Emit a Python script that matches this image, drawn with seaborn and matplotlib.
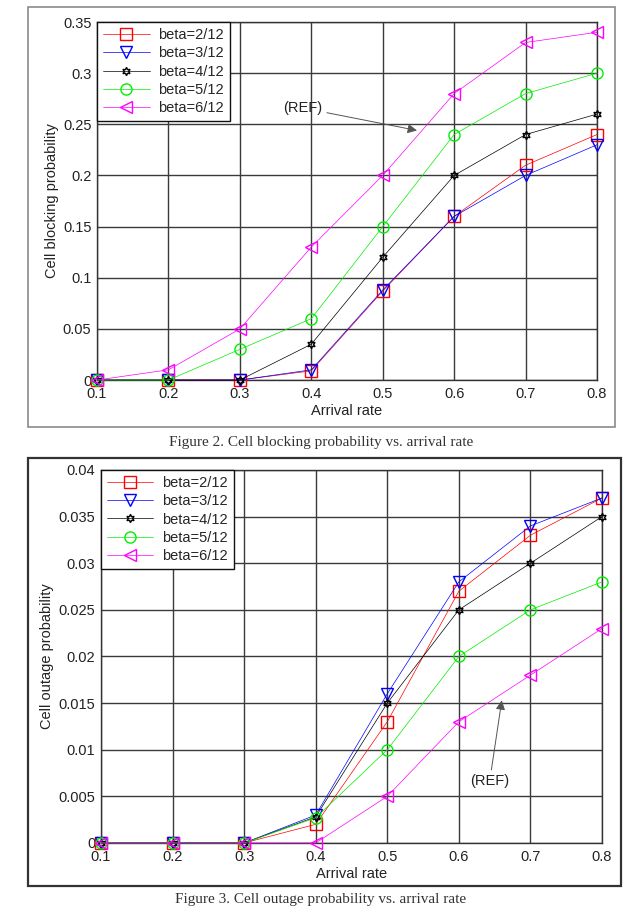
import numpy as np
import pandas as pd
import seaborn as sns
import matplotlib
matplotlib.use("Agg")
import matplotlib.pyplot as plt
from matplotlib.patches import Rectangle

# arrival rate on the x axis
arrival = [0.1, 0.2, 0.3, 0.4, 0.5, 0.6, 0.7, 0.8]
betas = ["beta=2/12", "beta=3/12", "beta=4/12", "beta=5/12", "beta=6/12"]

# Figure 2: cell blocking probability
block_2 = [0, 0, 0, 0.009, 0.087, 0.16, 0.21, 0.24]
block_3 = [0, 0, 0, 0.010, 0.088, 0.16, 0.20, 0.23]
block_4 = [0, 0, 0, 0.035, 0.12, 0.20, 0.24, 0.26]
block_5 = [0, 0, 0.03, 0.06, 0.15, 0.24, 0.28, 0.30]
block_6 = [0, 0.01, 0.05, 0.13, 0.20, 0.28, 0.33, 0.34]

# Figure 3: cell outage probability
outage_2 = [0, 0, 0, 0.002, 0.013, 0.027, 0.033, 0.037]
outage_3 = [0, 0, 0, 0.003, 0.016, 0.028, 0.034, 0.037]
outage_4 = [0, 0, 0, 0.0028, 0.015, 0.025, 0.030, 0.035]
outage_5 = [0, 0, 0, 0.0027, 0.010, 0.020, 0.025, 0.028]
outage_6 = [0, 0, 0, 0, 0.005, 0.013, 0.018, 0.023]

x_ticks = [0.1, 0.2, 0.3, 0.4, 0.5, 0.6, 0.7, 0.8]
x_ticklabels = ["0.1", "0.2", "0.3", "0.4", "0.5", "0.6", "0.7", "0.8"]
block_ticks = [0, 0.05, 0.1, 0.15, 0.2, 0.25, 0.3, 0.35]
block_ticklabels = ["0", "0.05", "0.1", "0.15", "0.2", "0.25", "0.3", "0.35"]
outage_ticks = [0, 0.005, 0.01, 0.015, 0.02, 0.025, 0.03, 0.035, 0.04]
outage_ticklabels = ["0", "0.005", "0.01", "0.015", "0.02", "0.025", "0.03", "0.035", "0.04"]

colors = ["#ff0000", "#0000ff", "#000000", "#00ee00", "#ff00ff"]
markers = ["s", "v", (6, 1, 0), "o", "<"]
msizes = [8, 8, 6, 8, 8]

sns.set_theme(style="white")
plt.rcParams["font.family"] = ["Liberation Sans", "DejaVu Sans"]
plt.rcParams["xtick.direction"] = "in"
plt.rcParams["ytick.direction"] = "in"

fig = plt.figure(figsize=(6.42, 9.14), dpi=100)

# outer frames around each figure
fig.patches.append(Rectangle((0.0436, 0.5328), 0.914, 0.4595, transform=fig.transFigure,
                             fill=False, edgecolor="#8a8a8a", linewidth=1.2))
fig.patches.append(Rectangle((0.0436, 0.0306), 0.9237, 0.4683, transform=fig.transFigure,
                             fill=False, edgecolor="#333333", linewidth=1.6))

ax1 = fig.add_axes([0.1511, 0.5842, 0.7788, 0.3917])
ax2 = fig.add_axes([0.1573, 0.0777, 0.7804, 0.4081])


def draw_panel(ax, series, yticks, yticklabels, ylabel):
    for name, vals, c, m, ms in zip(betas, series, colors, markers, msizes):
        df = pd.DataFrame({"rate": arrival, "p": vals})
        sns.lineplot(data=df, x="rate", y="p", ax=ax, color=c, marker=m,
                     markersize=ms, markerfacecolor="none", markeredgecolor=c,
                     markeredgewidth=1.0, linewidth=0.5, label=name,
                     clip_on=False, zorder=3)
    ax.set_xlim(0.1, 0.8)
    ax.set_ylim(yticks[0], yticks[-1])
    ax.set_xticks(x_ticks)
    ax.set_xticklabels(x_ticklabels)
    ax.set_yticks(yticks)
    ax.set_yticklabels(yticklabels)
    ax.tick_params(labelsize=10.5, colors="#222222", length=3)
    ax.tick_params(axis="x", pad=5)
    ax.tick_params(axis="y", pad=4)
    ax.grid(True, color="#3a3a3a", linewidth=1.0, linestyle="-")
    ax.set_axisbelow(True)
    for s in ax.spines.values():
        s.set_color("#333333")
        s.set_linewidth(1.0)
    ax.set_xlabel("Arrival rate", fontsize=10.5, color="#222222", labelpad=2)
    ax.set_ylabel(ylabel, fontsize=10.5, color="#222222", labelpad=3)
    leg = ax.legend(loc="upper left", borderaxespad=0, fontsize=10.5,
                    handlelength=3.2, labelspacing=0.3, handletextpad=0.6,
                    fancybox=False, framealpha=1, edgecolor="#111111",
                    borderpad=0.4)
    leg.get_frame().set_linewidth(1.0)
    leg.set_zorder(5)


draw_panel(ax1, [block_2, block_3, block_4, block_5, block_6],
           block_ticks, block_ticklabels, "Cell blocking probability")
draw_panel(ax2, [outage_2, outage_3, outage_4, outage_5, outage_6],
           outage_ticks, outage_ticklabels, "Cell outage probability")

arrow = dict(arrowstyle="-|>", color="#555555", lw=0.7, mutation_scale=14,
             shrinkA=1, shrinkB=0)
ax1.annotate("(REF)", xy=(0.548, 0.244), xytext=(0.388, 0.266), fontsize=10.5,
             ha="center", va="center", color="#222222", arrowprops=arrow)
ax2.annotate("(REF)", xy=(0.660, 0.0153), xytext=(0.643, 0.0066), fontsize=10.5,
             ha="center", va="center", color="#222222", arrowprops=arrow)

fig.text(0.5, 0.516, "Figure 2. Cell blocking probability vs. arrival rate",
         ha="center", va="center", fontsize=11, family="Liberation Serif", color="#333333")
fig.text(0.5, 0.0164, "Figure 3. Cell outage probability vs. arrival rate",
         ha="center", va="center", fontsize=11, family="Liberation Serif", color="#333333")

fig.savefig("out.png", dpi=100)
